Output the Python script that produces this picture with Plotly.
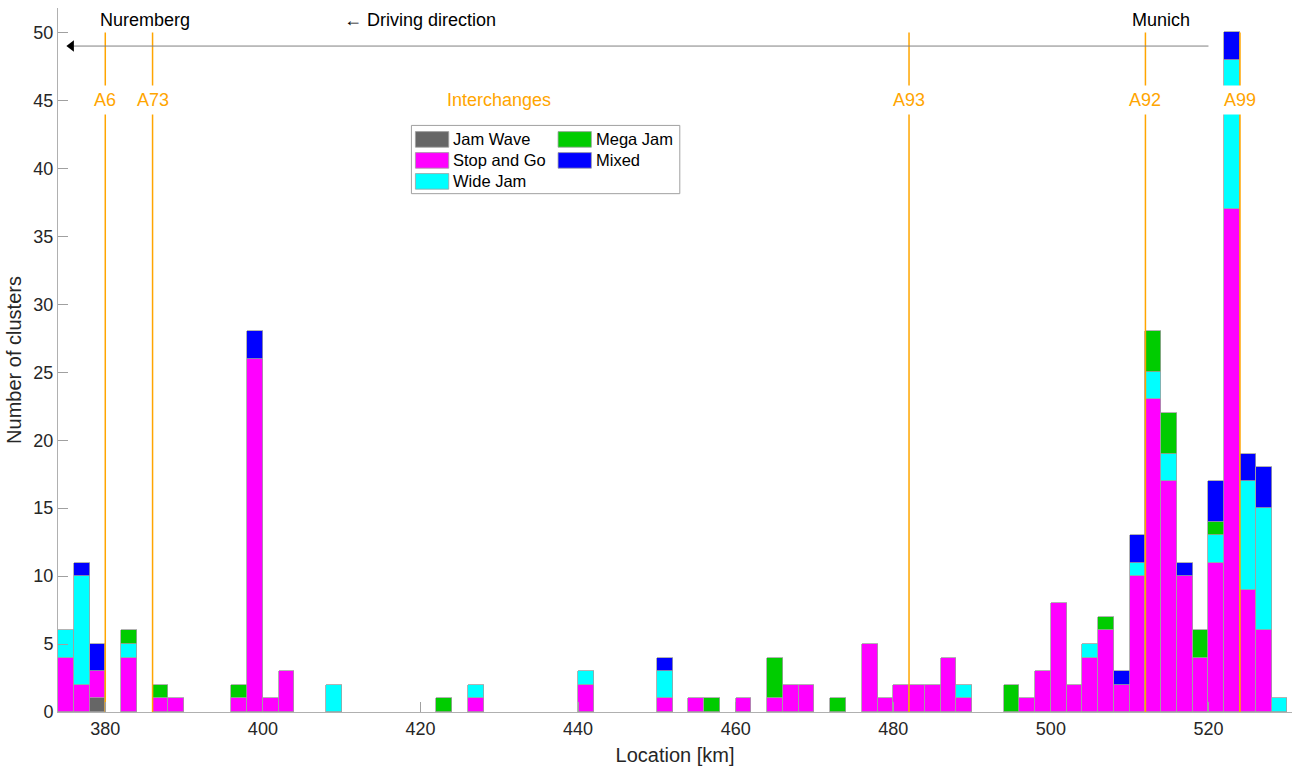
import plotly.graph_objects as go

# Histogram of traffic-jam clusters along the motorway, 2 km bins (left edges)
BIN_WIDTH = 2
bin_start = [374, 376, 378, 382, 386, 388, 396, 398, 400, 402, 408, 422, 426, 440,
             450, 454, 456, 460, 464, 466, 468, 472, 476, 478, 480, 482, 484, 486,
             488, 494, 496, 498, 500, 502, 504, 506, 508, 510, 512, 514, 516, 518,
             520, 522, 524, 526, 528]

jam_wave = [0, 0, 1, 0, 0, 0, 0, 0, 0, 0, 0, 0, 0, 0,
            0, 0, 0, 0, 0, 0, 0, 0, 0, 0, 0, 0, 0, 0,
            0, 0, 0, 0, 0, 0, 0, 0, 0, 0, 0, 0, 0, 0,
            0, 0, 0, 0, 0]
stop_and_go = [4, 2, 2, 4, 1, 1, 1, 26, 1, 3, 0, 0, 1, 2,
               1, 1, 0, 1, 1, 2, 2, 0, 5, 1, 2, 2, 2, 4,
               1, 0, 1, 3, 8, 2, 4, 6, 2, 10, 23, 17, 10, 4,
               11, 37, 9, 6, 0]
wide_jam = [2, 8, 0, 1, 0, 0, 0, 0, 0, 0, 2, 0, 1, 1,
            2, 0, 0, 0, 0, 0, 0, 0, 0, 0, 0, 0, 0, 0,
            1, 0, 0, 0, 0, 0, 1, 0, 0, 1, 2, 2, 0, 0,
            2, 11, 8, 9, 1]
mega_jam = [0, 0, 0, 1, 1, 0, 1, 0, 0, 0, 0, 1, 0, 0,
            0, 0, 1, 0, 3, 0, 0, 1, 0, 0, 0, 0, 0, 0,
            0, 2, 0, 0, 0, 0, 0, 1, 0, 0, 3, 3, 0, 2,
            1, 0, 0, 0, 0]
mixed = [0, 1, 2, 0, 0, 0, 0, 2, 0, 0, 0, 0, 0, 0,
         1, 0, 0, 0, 0, 0, 0, 0, 0, 0, 0, 0, 0, 0,
         0, 0, 0, 0, 0, 0, 0, 0, 1, 2, 0, 0, 1, 0,
         3, 2, 2, 3, 0]

series_names = ["Jam Wave", "Stop and Go", "Wide Jam", "Mega Jam", "Mixed"]
series_colors = ["#666666", "#FF00FF", "#00FFFF", "#00CC00", "#0000FF"]

interchange_names = ["A6", "A73", "A93", "A92", "A99"]
interchange_km = [380, 386, 482, 512, 524]

ORANGE = "#FFA500"
EDGE = "#A0A0A0"
TEXT = "#262626"
FONT = "Liberation Sans, Arial, Helvetica, sans-serif"

# plot-area pixel frame (used for the hand-laid legend)
PX_L, PX_R, PX_T, PX_B = 58.4, 1292.0, 7.5, 712.0
X_RANGE = [374, 530.6]
Y_RANGE = [0, 51.8]


def px(xp):
    return (xp - PX_L) / (PX_R - PX_L)


def py(yp):
    return (PX_B - yp) / (PX_B - PX_T)


fig = go.Figure()
centers = [b + BIN_WIDTH / 2 for b in bin_start]
for name, vals, color in zip(series_names,
                             [jam_wave, stop_and_go, wide_jam, mega_jam, mixed],
                             series_colors):
    fig.add_bar(
        x=centers,
        y=[v if v else None for v in vals],
        width=BIN_WIDTH,
        name=name,
        marker=dict(color=color, line=dict(color=EDGE, width=0.8)),
        showlegend=False,
    )

# interchange marker lines, drawn over the bars
line_x, line_y = [], []
for km in interchange_km:
    line_x += [km, km, None]
    line_y += [0, 50, None]
fig.add_trace(go.Scatter(x=line_x, y=line_y, mode="lines",
                         line=dict(color=ORANGE, width=1.5),
                         showlegend=False, hoverinfo="skip"))

# driving-direction arrow
fig.add_trace(go.Scatter(x=[375.8, 520], y=[49, 49], mode="lines",
                         line=dict(color="#808080", width=1),
                         showlegend=False, hoverinfo="skip"))
fig.add_trace(go.Scatter(x=[375.7], y=[49], mode="markers",
                         marker=dict(symbol="triangle-left", size=10, color="black"),
                         showlegend=False, hoverinfo="skip"))

shapes = []
annotations = []

# interchange labels
for name, km in zip(interchange_names, interchange_km):
    annotations.append(dict(x=km, y=45, xref="x", yref="y", text=name, showarrow=False,
                            font=dict(size=18, color=ORANGE, family=FONT),
                            bgcolor="white", borderpad=4))
annotations.append(dict(x=430, y=45, xref="x", yref="y", text="Interchanges",
                        showarrow=False, font=dict(size=18, color=ORANGE, family=FONT)))

for txt, xk in [("Nuremberg", 385.1), ("\u2190 Driving direction", 420.0), ("Munich", 514.0)]:
    annotations.append(dict(x=xk, y=50.95, xref="x", yref="y", text=txt, showarrow=False,
                            font=dict(size=18, color="black", family=FONT)))

# legend box
shapes.append(dict(type="rect", xref="paper", yref="paper",
                   x0=px(411.7), x1=px(680), y0=py(193.3), y1=py(125),
                   fillcolor="white", line=dict(color="#A0A0A0", width=1), layer="above"))
legend_slots = [(415.7, 139), (415.7, 160), (415.7, 181), (558.3, 139), (558.3, 160)]
for (sx, sy), name, color in zip(legend_slots, series_names, series_colors):
    shapes.append(dict(type="rect", xref="paper", yref="paper",
                       x0=px(sx), x1=px(sx + 33.3), y0=py(sy + 7.8), y1=py(sy - 7.8),
                       fillcolor=color, line=dict(color=EDGE, width=0.8), layer="above"))
    annotations.append(dict(x=px(sx + 36), y=py(sy), xref="paper", yref="paper",
                            text=name, showarrow=False, xanchor="left", yanchor="middle",
                            font=dict(size=16.5, color="black", family=FONT)))

fig.update_layout(
    width=1296, height=769,
    margin=dict(l=PX_L, r=1296 - PX_R, t=PX_T, b=769 - PX_B),
    paper_bgcolor="white", plot_bgcolor="white",
    barmode="stack", bargap=0,
    font=dict(family=FONT, size=18, color=TEXT),
    shapes=shapes, annotations=annotations,
    xaxis=dict(range=X_RANGE, tickmode="array", tickvals=list(range(380, 521, 20)),
               ticks="inside", ticklen=10, tickcolor="#A0A0A0",
               showline=True, linecolor="#B0B0B0", linewidth=1, showgrid=False,
               zeroline=False, tickfont=dict(size=18, color=TEXT),
               title=dict(text="Location [km]", font=dict(size=20, color=TEXT), standoff=10)),
    yaxis=dict(range=Y_RANGE, tickmode="array", tickvals=list(range(0, 51, 5)),
               ticks="inside", ticklen=10, tickcolor="#A0A0A0",
               showline=True, linecolor="#B0B0B0", linewidth=1, showgrid=False,
               zeroline=False, tickfont=dict(size=18, color=TEXT),
               title=dict(text="Number of clusters", font=dict(size=20, color=TEXT), standoff=6)),
)

fig.write_html("out.html")
